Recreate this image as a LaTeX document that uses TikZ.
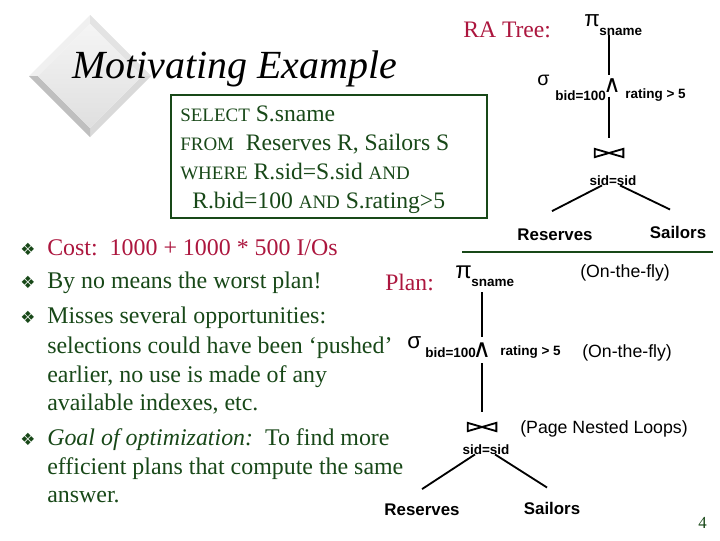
\documentclass[tikz,border=0pt]{standalone}
\usepackage{fontspec}
\setmainfont{Liberation Serif}
\newfontfamily\arialfont{Liberation Sans}
\newfontfamily\symfont{DejaVu Sans}
\usetikzlibrary{calc}
\definecolor{slidered}{RGB}{172,22,62}
\definecolor{slidegreen}{RGB}{24,72,24}
\newcommand{\kw}[1]{{\fontsize{13.5}{16}\selectfont #1}}

\begin{document}
\begin{tikzpicture}[x=0.025cm,y=-0.025cm,
 body/.style={anchor=base west,inner sep=0pt,text=slidegreen,font=\fontsize{17}{20}\selectfont},
 sql/.style={body,font=\fontsize{16.8}{20}\selectfont},
 redlbl/.style={body,text=slidered},
 bullet/.style={inner sep=0pt,text=slidegreen,font=\symfont\fontsize{12}{12}\selectfont},
 lbl/.style={anchor=base west,inner sep=0pt,font=\arialfont\bfseries\fontsize{9.6}{12}\selectfont},
 leaf/.style={anchor=base,inner sep=0pt,font=\arialfont\bfseries\fontsize{12}{14}\selectfont},
 note/.style={anchor=base west,inner sep=0pt,font=\arialfont\fontsize{12.6}{14}\selectfont},
 greek/.style={anchor=base west,inner sep=0pt,font=\arialfont\fontsize{#1}{20}\selectfont},
 wedge/.style={inner sep=1pt,font=\symfont\fontsize{#1}{18}\selectfont},
 bowtie/.style={minimum width=20pt,minimum height=5.5pt,inner sep=0pt},
 edge/.style={line width=1.3pt}]
\useasboundingbox (0,0) rectangle (720,540);

% bevelled diamond behind the title
\fill[gray!12] (90,15) -- (151,76) -- (142,76) -- (90,24) -- (38,76) -- (29,76) -- cycle;
\fill[gray!30] (151,76) -- (90,137) -- (90,128) -- (142,76) -- cycle;
\fill[gray!50] (29,76) -- (90,137) -- (90,128) -- (38,76) -- cycle;
\fill[gray!22] (90,15) -- (151,76) -- (142,76) -- (90,24) -- cycle;
\shade[top color=gray!8,bottom color=gray!25] (90,24) -- (142,76) -- (90,128) -- (38,76) -- cycle;
\node[anchor=base west,inner sep=0pt,font=\fontsize{28.4}{30}\selectfont\itshape] (title) at (72,78) {Motivating Example};

% query
\draw[slidegreen,line width=1.4pt] (171,95) rectangle (487,218);
\node[sql] (q1) at (180,121) {\kw{SELECT} S.sname};
\node[sql] (q2) at (180,150) {\kw{FROM}\ \ Reserves R, Sailors S};
\node[sql] (q3) at (180,179) {\kw{WHERE} R.sid=S.sid \kw{AND}};
\node[sql] (q4) at (192,208) {R.bid=100 \kw{AND} S.rating>5};

% RA tree
\node[redlbl,font=\fontsize{16.8}{20}\selectfont] (ratitle) at (463,37) {RA Tree:};
\node[greek=16] (rapi) at (584,26) {π};
\node[lbl] (rasn) at (599,35) {sname};
\node[greek=14] (rasig) at (537,85) {σ};
\node[lbl] (rabid) at (555,100) {bid=100};
\node[wedge=17] (raand) at (612,86) {∧};
\node[lbl] (rarat) at (625,98) {rating > 5};
\node[bowtie] (rajoin) at (609,153) {};
\node[lbl,anchor=base] (rajc) at (613,185) {sid=sid};
\node[leaf] (rares) at (555,240) {Reserves};
\node[leaf] (rasai) at (678,238) {Sailors};
\draw[edge] ($(rasn.base -| raand)+(-3,0)$) -- ($(raand.north)+(-3,-2)$);
\draw[edge,shorten >=8pt] ($(raand.south)+(-3,2)$) -- (rajoin.north);
\draw[edge] ($(rajc.south)+(-11,0)$) -- ($(rares.north)+(-3,-17)$);
\draw[edge] ($(rajc.south)+(7,0)$) -- ($(rasai.north)+(-8,-16)$);

\draw[slidegreen,line width=1.5pt] (462,252) -- (713,252);

% bullets
\foreach \y in {249,282,317,439}
 \node[bullet] (b\y) at (28,\y) {❖};
\node[redlbl] (l1) at (47,255) {Cost:\ \ 1000 + 1000 * 500 I/Os};
\node[body] (l2) at (47,288) {By no means the worst plan!};
\node[body] (l3) at (47,323) {Misses several opportunities:};
\node[body] (l4) at (47,353) {selections could have been `pushed'};
\node[body] (l5) at (47,382) {earlier, no use is made of any};
\node[body] (l6) at (47,410) {available indexes, etc.};
\node[body] (l7) at (47,445) {\textit{Goal of optimization:}\ \ To find more};
\node[body] (l8) at (47,474) {efficient plans that compute the same};
\node[body] (l9) at (47,502) {answer.};

% plan
\node[redlbl,font=\fontsize{16.8}{20}\selectfont] (pltitle) at (385,290) {Plan:};
\node[greek=17] (plpi) at (455,278) {π};
\node[lbl] (plsn) at (471,286) {sname};
\node[note] (plfly1) at (580,277) {(On-the-fly)};
\node[greek=16] (plsig) at (407,348) {σ};
\node[lbl] (plbid) at (425,357) {bid=100};
\node[wedge=18] (pland) at (482,350) {∧};
\node[lbl] (plrat) at (500,355) {rating > 5};
\node[note] (plfly2) at (582,357) {(On-the-fly)};
\node[bowtie] (pljoin) at (482,427) {};
\node[note] (plpnl) at (520,433) {(Page Nested Loops)};
\node[lbl,anchor=base] (pljc) at (486,454) {sid=sid};
\node[leaf] (plres) at (422,515) {Reserves};
\node[leaf] (plsai) at (552,514) {Sailors};
\draw[edge] ($(plsn.base -| pland)+(0,6)$) -- ($(pland.north)+(0,-4)$);
\draw[edge,shorten >=8pt] ($(pland.south)+(0,4)$) -- (pljoin.north);
\draw[edge] ($(pljc.south)+(-11,0)$) -- ($(plres.north)+(0,-14)$);
\draw[edge] ($(pljc.south)+(9,0)$) -- ($(plsai.north)+(-5,-14)$);
\foreach \j in {rajoin,pljoin}
 \draw[edge,line join=miter] (\j.north west) -- (\j.south east) -- (\j.north east) -- (\j.south west) -- cycle;

\node[anchor=base west,inner sep=0pt,text=slidegreen,font=\fontsize{12}{14}\selectfont] (pgno) at (698,528) {4};
\end{tikzpicture}
\end{document}
